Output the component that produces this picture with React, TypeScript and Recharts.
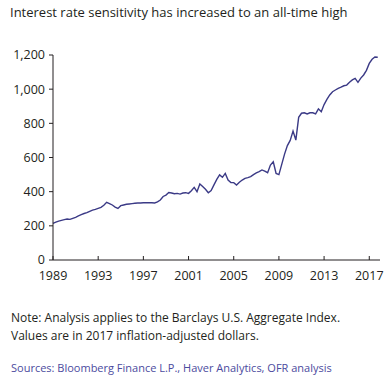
import { LineChart, Line, XAxis, YAxis } from 'recharts';

// Quarterly values, 1989 Q1 through 2017 Q4
const startYear = 1989;
const values = [
  215, 222, 228, 232,
  236, 240, 238, 244,
  250, 258, 266, 272,
  277, 285, 292, 296,
  302, 308, 320, 338,
  330, 322, 310, 302,
  318, 322, 326, 328,
  330, 332, 334, 334,
  335, 336, 335, 335,
  334, 340, 351, 372,
  380, 395, 392, 388,
  390, 386, 392, 394,
  390, 405, 425, 400,
  445, 430, 414, 394,
  406, 440, 472, 498,
  484, 507, 468, 453,
  453, 439, 455, 468,
  478, 482, 488, 500,
  510, 517, 527, 520,
  511, 556, 575, 507,
  500, 560, 620, 670,
  700, 755, 702, 835,
  859, 862, 855, 862,
  862, 855, 885, 868,
  910, 940, 966, 985,
  995, 1005, 1012, 1020,
  1024, 1040, 1054, 1063,
  1040, 1065, 1083, 1110,
  1151, 1175, 1188, 1187,
];
const xTicks = [1989, 1993, 1997, 2001, 2005, 2009, 2013, 2017];
const yTicks = [0, 200, 400, 600, 800, 1000, 1200];

const title = 'Interest rate sensitivity has increased to an all-time high';
const noteLines = [
  'Note: Analysis applies to the Barclays U.S. Aggregate Index.',
  'Values are in 2017 inflation-adjusted dollars.',
];
const sources = 'Sources: Bloomberg Finance L.P., Haver Analytics, OFR analysis';

const data = values.map((v, i) => ({ date: startYear + i / 4, value: v }));

const font = '"Open Sans", sans-serif';

export default function App() {
  return (
    <div
      style={{
        position: 'absolute',
        left: 0,
        top: 0,
        width: 390,
        height: 387,
        background: '#fff',
        fontFamily: font,
        color: '#231f20',
      }}
    >
      <div style={{ position: 'absolute', left: 10, top: 3, fontSize: 13, whiteSpace: 'nowrap' }}>
        {title}
      </div>
      <div style={{ position: 'absolute', left: 0, top: 0 }}>
        <LineChart width={390} height={290} data={data} margin={{ top: 55, right: 10, bottom: 0, left: 0 }}>
          <XAxis
            dataKey="date"
            type="number"
            domain={[1989, 2017.95]}
            ticks={xTicks}
            height={30}
            tickSize={-4}
            tickMargin={15}
            axisLine={{ stroke: '#231f20' }}
            tickLine={{ stroke: '#231f20' }}
            tick={{ fill: '#231f20', fontSize: 12.5, fontFamily: font }}
          />
          <YAxis
            domain={[0, 1200]}
            ticks={yTicks}
            width={53}
            tickSize={4}
            tickMargin={4}
            tickFormatter={(v: number) => v.toLocaleString('en-US')}
            axisLine={{ stroke: '#231f20' }}
            tickLine={{ stroke: '#231f20' }}
            tick={{ fill: '#231f20', fontSize: 12.5, fontFamily: font }}
          />
          <Line
            type="linear"
            dataKey="value"
            stroke="#3b3a86"
            strokeWidth={1.4}
            dot={false}
            isAnimationActive={false}
          />
        </LineChart>
      </div>
      <div style={{ position: 'absolute', left: 11, top: 309, fontSize: 12, lineHeight: '18px' }}>
        {noteLines.map((l) => (
          <div key={l} style={{ whiteSpace: 'nowrap' }}>{l}</div>
        ))}
      </div>
      <div style={{ position: 'absolute', left: 11, top: 360, fontSize: 11, color: '#4b4b9e', whiteSpace: 'nowrap' }}>
        {sources}
      </div>
    </div>
  );
}
